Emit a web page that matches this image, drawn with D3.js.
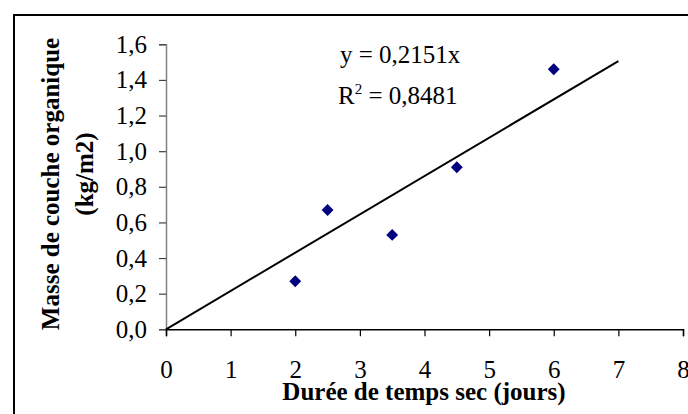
<!DOCTYPE html>
<html>
<head>
<meta charset="utf-8">
<script src="https://cdn.jsdelivr.net/npm/d3@7"></script>
<style>
body{margin:0;background:#fff;}
text{font-family:"Liberation Serif","Times New Roman",serif;}
</style>
</head>
<body>
<svg id="chart"></svg>
<script>
var days=[2,2.5,3.5,4.5,6];
var masses=[0.27,0.67,0.53,0.91,1.46];
var slope=0.2151;
var trendX=[0,7];
var xTicks=[0,1,2,3,4,5,6,7,8];
var yTicks=[0,0.2,0.4,0.6,0.8,1.0,1.2,1.4,1.6];
var eqText="y = 0,2151x";
var r2Text="= 0,8481";

var w=688;
var h=414;
var margin={left:166,right:5,top:44.3,bottom:84.7};
var fs=25;

var svg=d3.select("#chart")
          .attr("width",w)
          .attr("height",h);

// frame
svg.append("rect")
   .attr("x",14)
   .attr("y",15)
   .attr("width",w)
   .attr("height",h)
   .attr("fill","none")
   .attr("stroke","#000")
   .attr("stroke-width",2);

var xScale=d3.scaleLinear()
             .domain([0,8])
             .range([margin.left,w-margin.right]);
var yScale=d3.scaleLinear()
             .domain([0,1.6])
             .range([h-margin.bottom,margin.top]);

var fmt=function(d){return d3.format(".1f")(d).replace(".",",");};

var xAxis=d3.axisBottom(xScale).tickValues(xTicks).tickSize(7).tickPadding(24);
var yAxis=d3.axisLeft(yScale).tickValues(yTicks).tickSize(7).tickPadding(12).tickFormat(fmt);

var gy=svg.append("g")
   .attr("transform","translate("+margin.left+",0)")
   .call(yAxis);
gy.attr("font-family",null).attr("font-size",null);
gy.select(".domain").attr("stroke","#808080").attr("stroke-width",1.5);
gy.selectAll(".tick line").attr("stroke","#404040").attr("stroke-width",1.2);
gy.selectAll(".tick text").attr("font-size",fs).attr("fill","#000");

var gx=svg.append("g")
   .attr("transform","translate(0,"+yScale(0)+")")
   .call(xAxis);
gx.attr("font-family",null).attr("font-size",null);
gx.select(".domain").attr("stroke","#000").attr("stroke-width",1.5);
gx.selectAll(".tick line").attr("stroke","#000").attr("stroke-width",1.2);
gx.selectAll(".tick text").attr("font-size",fs).attr("fill","#000");

// trend line
var line=d3.line()
           .x(function(d){return xScale(d);})
           .y(function(d){return yScale(slope*d);});
svg.append("path")
   .datum(trendX)
   .attr("d",line)
   .attr("fill","none")
   .attr("stroke","#000")
   .attr("stroke-width",2);

// points
svg.selectAll(".pt")
   .data(days)
   .enter()
   .append("path")
   .attr("class","pt")
   .attr("d",d3.symbol().type(d3.symbolDiamond2).size(90))
   .attr("transform",function(d,i){return "translate("+xScale(d)+","+yScale(masses[i])+")";})
   .attr("fill","#000080");

// equation
svg.append("text")
   .attr("x",340)
   .attr("y",63)
   .attr("font-size",fs)
   .text(eqText);
var r2=svg.append("text")
   .attr("x",338)
   .attr("y",104)
   .attr("font-size",fs);
r2.append("tspan").text("R");
r2.append("tspan").attr("font-size",15).attr("dy",-10).text("2");
r2.append("tspan").attr("dy",10).text(" "+r2Text);

// axis titles
svg.append("text")
   .attr("x",424)
   .attr("y",400)
   .attr("text-anchor","middle")
   .attr("font-size",fs)
   .attr("font-weight","bold")
   .text("Durée de temps sec (jours)");
svg.append("text")
   .attr("transform","translate(59,184) rotate(-90)")
   .attr("text-anchor","middle")
   .attr("font-size",fs)
   .attr("font-weight","bold")
   .text("Masse de couche organique");
svg.append("text")
   .attr("transform","translate(93,174) rotate(-90)")
   .attr("text-anchor","middle")
   .attr("font-size",fs)
   .attr("font-weight","bold")
   .text("(kg/m2)");
</script>
</body>
</html>
